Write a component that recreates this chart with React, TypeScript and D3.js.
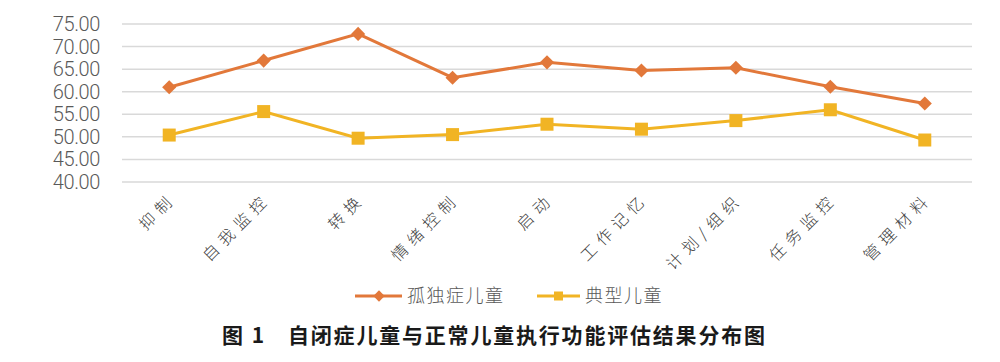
import React from "react";
import * as d3 from "d3";

const categories = ["抑制", "自我监控", "转换", "情绪控制", "启动", "工作记忆", "计划/组织", "任务监控", "管理材料"];
const autismValues = [61.0, 66.9, 72.8, 63.1, 66.5, 64.7, 65.3, 61.1, 57.4];
const typicalValues = [50.4, 55.6, 49.7, 50.5, 52.8, 51.7, 53.6, 56.0, 49.3];
const yTicks = [40, 45, 50, 55, 60, 65, 70, 75];
const seriesNames = ["孤独症儿童", "典型儿童"];
const captionLabel = "图 1";
const captionText = "自闭症儿童与正常儿童执行功能评估结果分布图";

const ORANGE = "#E2783A";
const YELLOW = "#F1B424";

const App = () => {
  const width = 1000;
  const height = 362;
  const margin = { top: 24, right: 28, left: 122 };
  const plotBottom = 182;

  const x = d3
    .scaleBand<string>()
    .domain(categories)
    .range([margin.left, width - margin.right]);
  const cx = (c: string) => (x(c) ?? 0) + x.bandwidth() / 2;

  const y = d3.scaleLinear().domain([40, 75]).range([plotBottom, margin.top]);

  const line = d3
    .line<number>()
    .x((_, i) => cx(categories[i]))
    .y((d) => y(d));

  const font = "'Noto Sans CJK SC', 'Noto Sans', sans-serif";

  return (
    <svg
      width={width}
      height={height}
      style={{ position: "absolute", left: 0, top: 0, background: "#fff" }}
    >
      {/* grid + y labels */}
      {yTicks.map((t) => (
        <g key={`y-${t}`}>
          <line
            x1={margin.left}
            x2={width - margin.right}
            y1={y(t)}
            y2={y(t)}
            stroke="#D9D9D9"
            strokeWidth={1.5}
          />
          <text
            x={100}
            y={y(t)}
            dy="0.35em"
            textAnchor="end"
            fontSize={20}
            fontFamily="Roboto, sans-serif"
            fontWeight={300}
            letterSpacing={-0.4}
            fill="#595959"
          >
            {t.toFixed(2)}
          </text>
        </g>
      ))}

      {/* x labels */}
      {categories.map((c) => (
        <text
          key={`x-${c}`}
          transform={`translate(${cx(c) + 4}, ${plotBottom + 14}) rotate(-45)`}
          textAnchor="end"
          dy="0.35em"
          fontSize={16}
          letterSpacing={6}
          fontFamily={font}
          fontWeight={300}
          fill="#404040"
        >
          {c}
        </text>
      ))}

      {/* lines */}
      <path d={line(autismValues) ?? ""} fill="none" stroke={ORANGE} strokeWidth={3} />
      <path d={line(typicalValues) ?? ""} fill="none" stroke={YELLOW} strokeWidth={3} />

      {/* markers */}
      {autismValues.map((v, i) => (
        <rect
          key={`a-${i}`}
          x={-5}
          y={-5}
          width={10}
          height={10}
          fill={ORANGE}
          transform={`translate(${cx(categories[i])}, ${y(v)}) rotate(45)`}
        />
      ))}
      {typicalValues.map((v, i) => (
        <rect
          key={`t-${i}`}
          x={cx(categories[i]) - 6.5}
          y={y(v) - 6.5}
          width={13}
          height={13}
          fill={YELLOW}
        />
      ))}

      {/* legend */}
      <g transform="translate(355, 296)">
        <line x1={0} x2={47} y1={0} y2={0} stroke={ORANGE} strokeWidth={3} />
        <rect x={-4} y={-4} width={8} height={8} fill={ORANGE} transform="translate(24,0) rotate(45)" />
        <text x={52} y={0} dy="0.35em" fontSize={18} letterSpacing={1.5} fontFamily={font} fontWeight={300} fill="#595959">
          {seriesNames[0]}
        </text>
        <line x1={182} x2={225} y1={0} y2={0} stroke={YELLOW} strokeWidth={3} />
        <rect x={199} y={-4.5} width={9} height={9} fill={YELLOW} />
        <text x={230} y={0} dy="0.35em" fontSize={18} letterSpacing={1.5} fontFamily={font} fontWeight={300} fill="#595959">
          {seriesNames[1]}
        </text>
      </g>

      {/* caption */}
      <g fontSize={21} fontWeight="bold" fontFamily={font} fill="#1a1a1a">
        <text x={222} y={336} dy="0.35em" letterSpacing={2}>
          {captionLabel}
        </text>
        <text x={288} y={336} dy="0.35em" letterSpacing={1.8}>
          {captionText}
        </text>
      </g>
    </svg>
  );
};

export default App;
